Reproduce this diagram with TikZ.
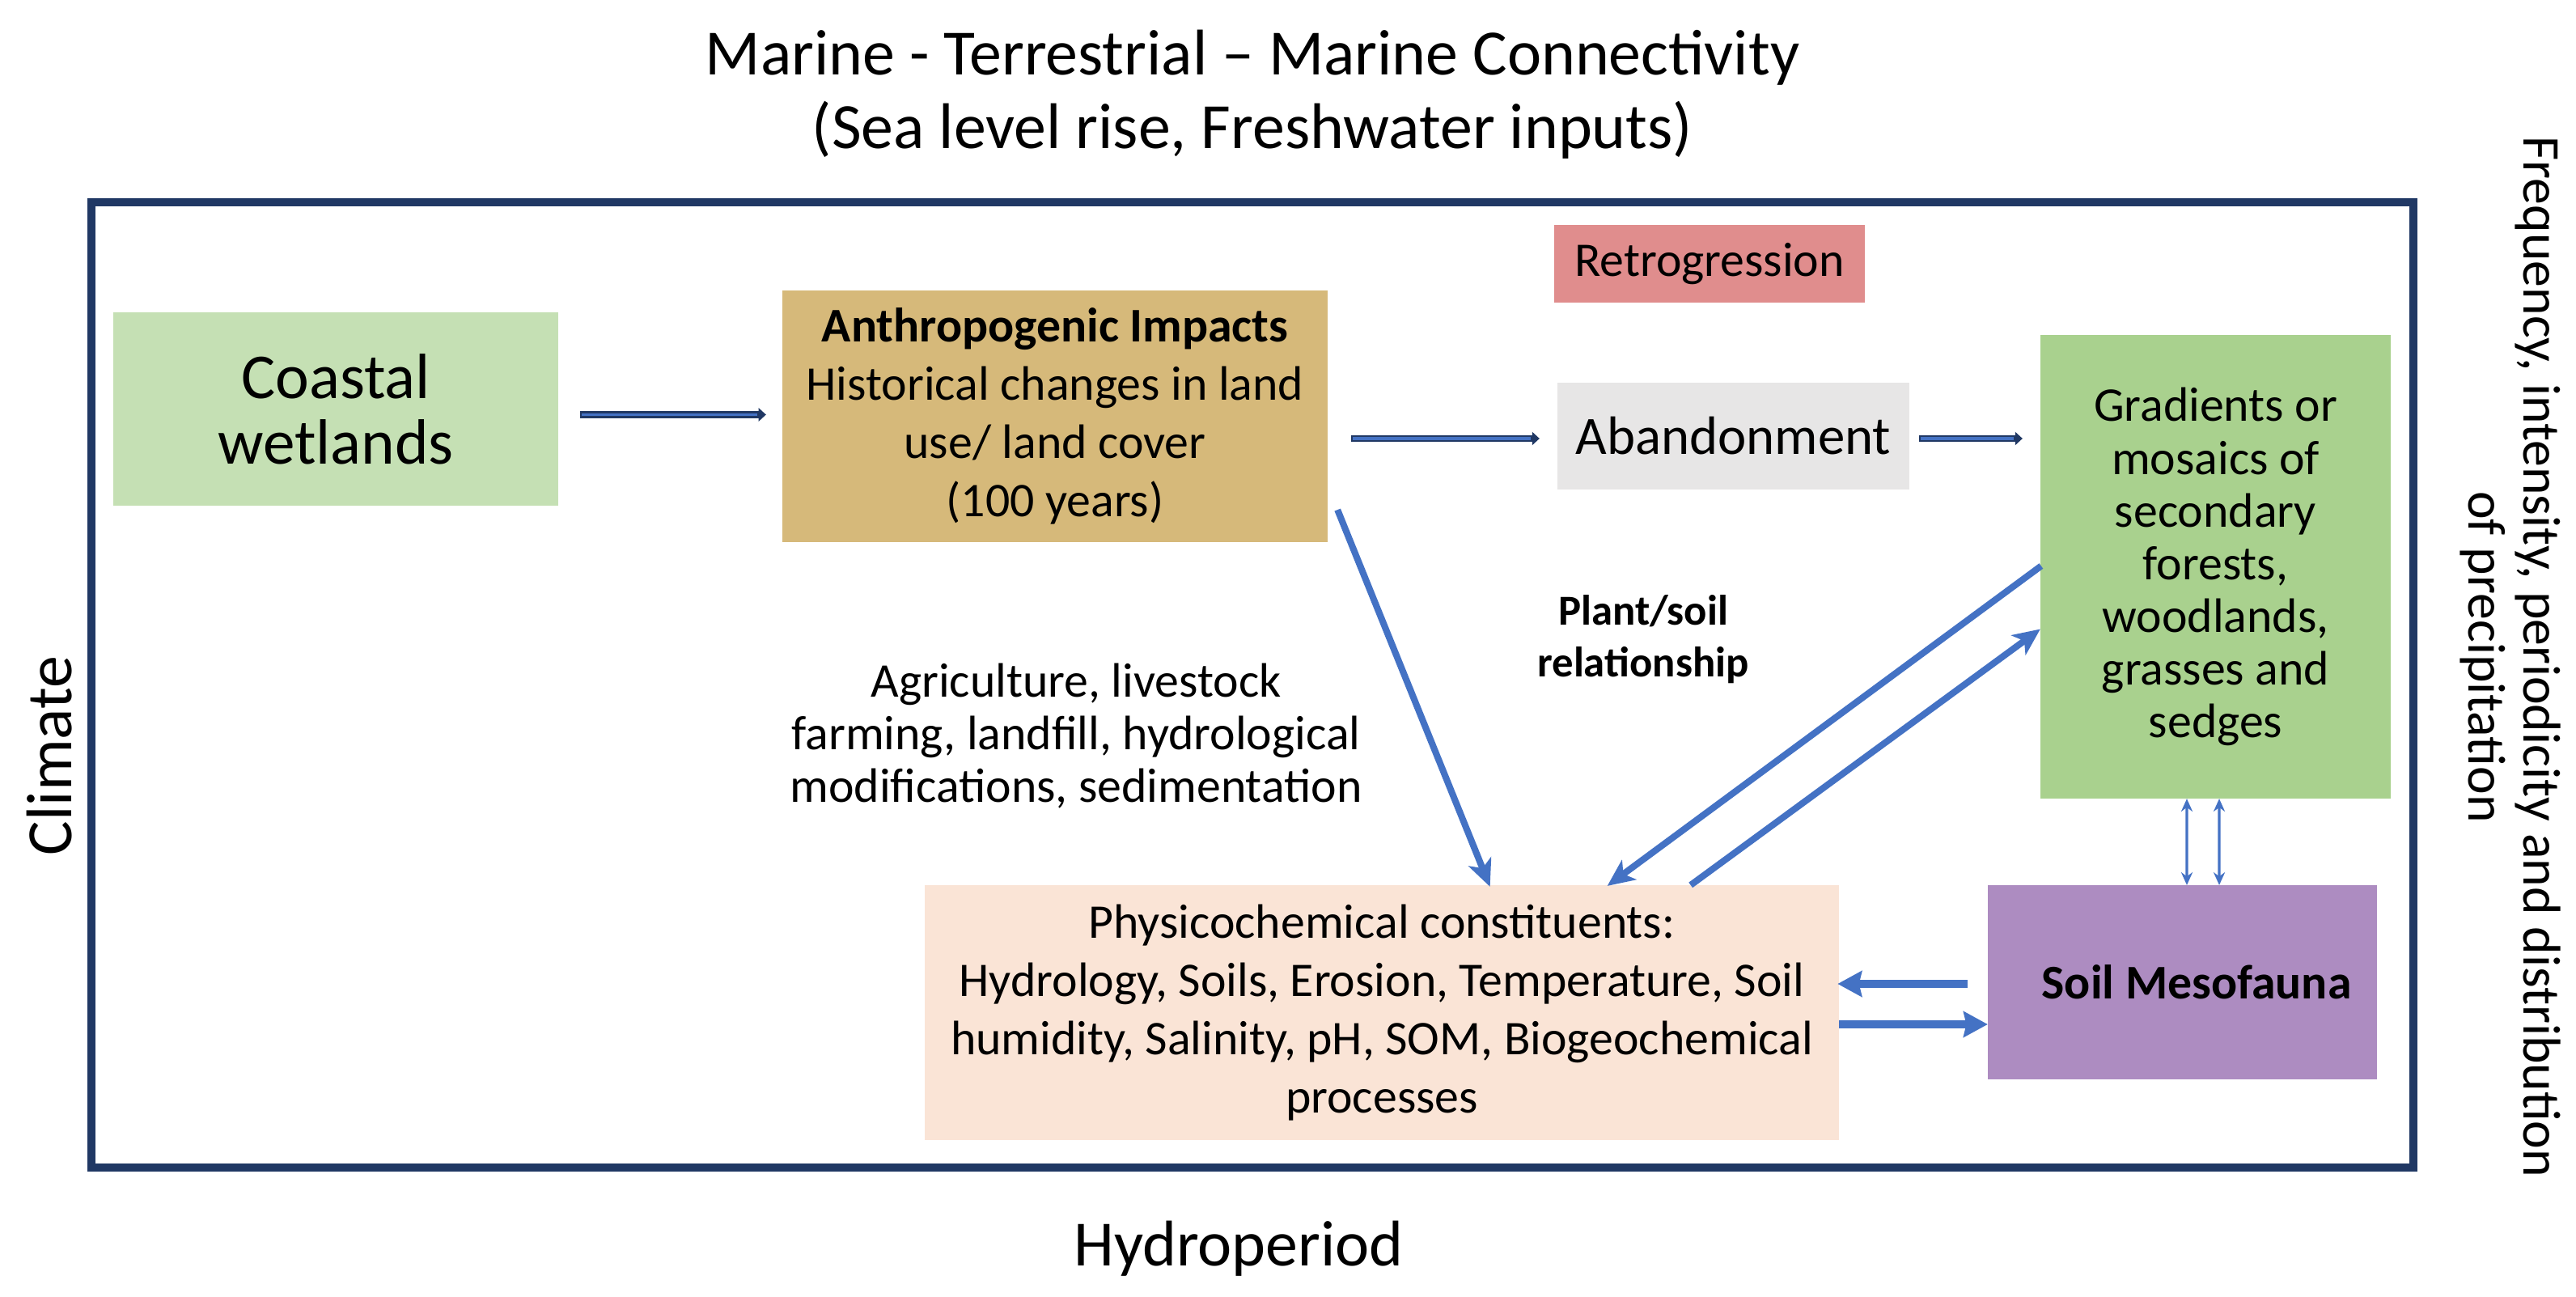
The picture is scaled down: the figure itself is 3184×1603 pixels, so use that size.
\documentclass[tikz,border=0pt]{standalone}
\usepackage{fontspec}
\setmainfont{Carlito}
\usetikzlibrary{arrows.meta,calc}
\definecolor{navy}{HTML}{203864}
\definecolor{blueA}{HTML}{4472C4}
\definecolor{cCoast}{HTML}{C5E0B4}
\definecolor{cAnth}{HTML}{D6B97A}
\definecolor{cRetro}{HTML}{E08D8D}
\definecolor{cAband}{HTML}{E7E6E6}
\definecolor{cGrad}{HTML}{A9D18E}
\definecolor{cMeso}{HTML}{AD8CC1}
\definecolor{cPhys}{HTML}{FAE4D6}
\tikzset{
  box/.style={draw=none, inner sep=0pt, outer sep=0pt, align=center},
  bodyfont/.style={font=\fontsize{17}{20.5}\selectfont},
  bigfont/.style={font=\fontsize{22.7}{25.9}\selectfont},
  navyarrow/.style={draw=navy, line width=2.5pt, -{Triangle[length=2.6pt,width=4.6pt]},
    postaction={draw=blueA, line width=0.9pt, -, shorten >=3pt, shorten <=0.6pt}},
  bluearrow/.style={draw=blueA, line width=2.3pt, -{Stealth[length=9.5pt,width=8.5pt,inset=2.5pt]}},
  thickarrow/.style={draw=blueA, line width=2.85pt, -{Stealth[length=8.5pt,width=9pt,inset=1pt]}},
  thinarrow/.style={draw=blueA, line width=0.9pt, {Stealth[length=4.5pt,width=4pt]}-{Stealth[length=4.5pt,width=4pt]}}
}
\begin{document}
\begin{tikzpicture}[x=0.01cm,y=-0.01cm]
\useasboundingbox (0,0) rectangle (3184,1603);
% frame
\draw[navy, line width=2.85pt] (113,250) rectangle (2983,1443);
% titles
\node[box, bigfont] (title) at (1548,117) {Marine - Terrestrial -- Marine Connectivity\\(Sea level rise, Freshwater inputs)};
\node[box, bigfont, rotate=90] (climate) at (61,934) {Climate};
\node[box, bigfont] (hydro) at (1531,1543) {Hydroperiod};
\node[box, rotate=-90, font=\fontsize{18.7}{19.1}\selectfont] (precip) at (3103,812) {Frequency, intensity, periodicity and distribution\\of precipitation};
% boxes
\node[box, fill=cCoast, minimum width=5.5cm, minimum height=2.39cm, font=\fontsize{22.5}{23}\selectfont] (coast) at (415,505.5) {Coastal\\wetlands};
\node[box, fill=cAnth, minimum width=6.74cm, minimum height=3.11cm, bodyfont] (anth) at (1304,514.5) {\textbf{Anthropogenic Impacts}\\Historical changes in land\\use/ land cover\\(100 years)};
\node[box, fill=cRetro, minimum width=3.84cm, minimum height=0.96cm, bodyfont] (retro) at (2113,326) {Retrogression};
\node[box, fill=cAband, minimum width=4.35cm, minimum height=1.32cm, font=\fontsize{19}{22}\selectfont] (aband) at (2142.5,539) {Abandonment};
\node[box, fill=cGrad, minimum width=4.33cm, minimum height=5.73cm, font=\fontsize{17}{18.5}\selectfont] (grad) at (2738.5,700.5) {Gradients or\\mosaics of\\secondary\\forests,\\woodlands,\\grasses and\\sedges};
\node[box, fill=cMeso, minimum width=4.81cm, minimum height=2.40cm, bodyfont] (meso) at (2697.5,1214) {\hspace{0.35cm}\textbf{Soil Mesofauna}};
\node[box, fill=cPhys, minimum width=11.30cm, minimum height=3.15cm, bodyfont] (phys) at (1708,1251.5) {Physicochemical constituents:\\Hydrology, Soils, Erosion, Temperature, Soil\\humidity, Salinity, pH, SOM, Biogeochemical\\processes};
% labels
\node[box, font=\fontsize{17}{18.5}\selectfont] (agri) at (1330,910) {Agriculture, livestock\\farming, landfill, hydrological\\modifications, sedimentation};
\node[box, font=\bfseries\fontsize{15}{18.2}\selectfont] (plant) at (2031,790) {Plant/soil\\relationship};
% navy arrows
\draw[navyarrow] ([shift={(27,7)}]coast.east) -- ([shift={(-20,-2)}]anth.west);
\draw[navyarrow] ([shift={(29,27.5)}]anth.east) -- ([shift={(-22,3)}]aband.west);
\draw[navyarrow] ([shift={(12,3)}]aband.east) -- ([shift={(-22,-158.5)}]grad.west);
% blue arrows
\draw[bluearrow] ([shift={(12,-40)}]anth.south east) -- ([shift={(699,2)}]phys.north west);
\draw[bluearrow] ([shift={(1,-1)}]grad.west) -- ([shift={(844,1)}]phys.north west);
\draw[bluearrow] ([shift={(947,0)}]phys.north west) -- ([shift={(0,77)}]grad.west);
\draw[thickarrow] ([shift={(-25,2)}]meso.west) -- ([shift={(-2,-35.5)}]phys.east);
\draw[thickarrow] ([shift={(0,14.5)}]phys.east) -- ([shift={(0,52)}]meso.west);
\draw[thinarrow] ([xshift=-0.355cm]grad.south) -- ([xshift=0.055cm]meso.north);
\draw[thinarrow] ([xshift=0.045cm]grad.south) -- ([xshift=0.455cm]meso.north);
\end{tikzpicture}
\end{document}
